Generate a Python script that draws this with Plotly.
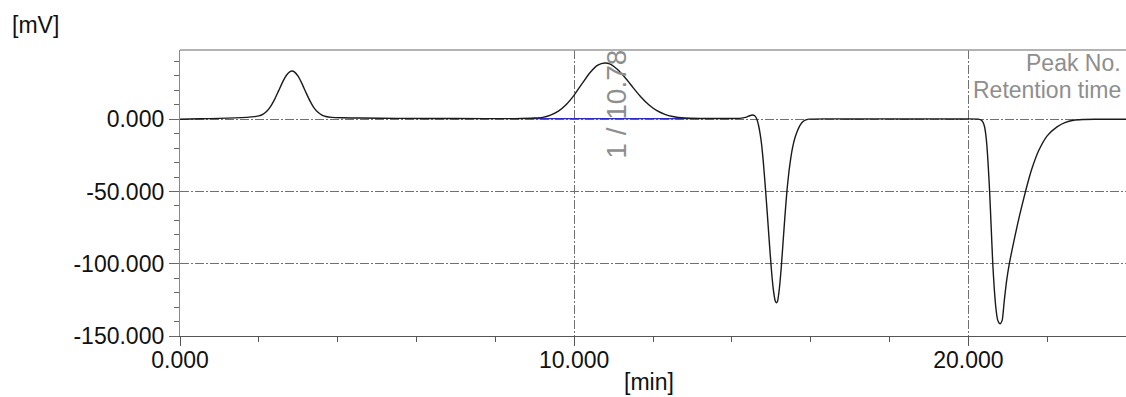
import plotly.graph_objects as go

# Detector signal (mV) against retention time (min)
time_min = [
    0.0, 0.5, 1.0, 1.4, 1.7, 1.9, 2.0, 2.1, 2.2, 2.3, 2.4, 2.5, 2.6, 2.7, 2.8, 2.85,
    2.9, 3.0, 3.1, 3.2, 3.3, 3.4, 3.5, 3.6, 3.7, 3.85, 4.1, 4.6, 5.5, 7.0, 8.5,
    9.0, 9.2, 9.4, 9.6, 9.8, 10.0, 10.2, 10.4, 10.6, 10.78, 10.9, 11.1, 11.3, 11.5,
    11.7, 11.9, 12.1, 12.3, 12.5, 12.8, 13.2, 13.8, 14.2, 14.35, 14.45, 14.52,
    14.58, 14.63, 14.68, 14.72, 14.76, 14.80, 14.85, 14.90, 14.95, 15.00, 15.05,
    15.10, 15.13, 15.16, 15.20, 15.25, 15.30, 15.35, 15.40, 15.45, 15.50, 15.55,
    15.60, 15.65, 15.70, 15.75, 15.80, 15.86, 15.95, 17.0, 18.5, 19.8, 20.25,
    20.32, 20.37, 20.41, 20.44, 20.47, 20.50, 20.54, 20.58, 20.62, 20.66, 20.70,
    20.74, 20.78, 20.81, 20.86, 20.91, 20.97, 21.04, 21.12, 21.19, 21.30, 21.45,
    21.61, 21.78, 22.00, 22.25, 22.45, 22.67, 22.90, 23.20, 24.0,
]
signal_mv = [
    0.0, 0.3, 0.6, 0.9, 1.3, 1.8, 2.3, 3.4, 5.5, 8.9, 13.7, 19.6, 25.5, 30.4, 33.1, 33.4,
    32.8, 29.6, 24.3, 18.2, 12.5, 7.9, 4.8, 2.9, 1.9, 1.3, 1.0, 0.8, 0.6, 0.5, 0.4,
    0.8, 1.3, 2.9, 5.6, 10.2, 16.7, 24.6, 32.2, 37.4, 38.9, 38.3, 34.4, 28.5, 21.7,
    15.2, 9.8, 5.9, 3.4, 1.9, 0.8, 0.5, 0.5, 0.6, 1.3, 2.4, 2.9,
    2.4, 0.3, -4.5, -10.5, -18.5, -30.0, -47.0, -65.5, -84.7, -102.8, -117.2,
    -125.6, -127.0, -126.0, -118.6, -104.0, -85.0, -66.0, -49.0, -36.0, -26.0, -18.5,
    -13.0, -9.0, -5.8, -3.4, -1.8, -0.6, 0.1, 0.2, 0.2, 0.2, 0.1,
    -0.5, -2.0, -5.0, -10.0, -18.0, -30.0, -50.0, -75.0, -100.0, -118.0, -131.0,
    -138.5, -141.0, -141.5, -139.0, -126.0, -112.0, -100.0, -89.0, -80.0, -66.5, -50.0,
    -34.5, -22.0, -11.5, -5.3, -2.3, -0.7, -0.2, 0.0, 0.0,
]

# Integration baseline under peak 1
baseline_time = [8.9, 13.0]
baseline_mv = [0.4, 0.4]

# Peak annotation
peak_no = [1]
retention_time = [10.78]
peak_label_mv = [-28.5]

x_tick_vals = [0, 10, 20]
x_tick_text = ["0.000", "10.000", "20.000"]
y_tick_vals = [-150, -100, -50, 0]
y_tick_text = ["-150.000", "-100.000", "-50.000", "0.000"]

FONT = "Liberation Sans, Arial, sans-serif"
GRID = "#707070"
LABEL_GREY = "#8e8e8e"

fig = go.Figure()
fig.add_trace(go.Scatter(
    x=baseline_time, y=baseline_mv, mode="lines",
    line=dict(color="#2a2ad0", width=1.4), hoverinfo="skip",
))
fig.add_trace(go.Scatter(
    x=time_min, y=signal_mv, mode="lines", line_shape="spline",
    line=dict(color="#1a1a1a", width=1.4, smoothing=0.5),
))

for n, rt, ymv in zip(peak_no, retention_time, peak_label_mv):
    fig.add_annotation(
        x=rt + 0.3, y=ymv, xref="x", yref="y",
        text=f"{n} / {rt:.2f}", textangle=-90, showarrow=False,
        xanchor="center", yanchor="bottom",
        font=dict(family=FONT, size=28, color=LABEL_GREY),
    )

fig.add_annotation(
    x=-0.1797, y=1.0857, xref="paper", yref="paper", text="[mV]",
    showarrow=False, xanchor="left", yanchor="middle",
    font=dict(family=FONT, size=23, color="#111"),
)
fig.add_annotation(
    x=0.4958, y=-0.162, xref="paper", yref="paper", text="[min]",
    showarrow=False, xanchor="center", yanchor="middle",
    font=dict(family=FONT, size=23, color="#111"),
)
fig.add_annotation(
    x=0.9968, y=0.955, xref="paper", yref="paper", text="Peak No.",
    showarrow=False, xanchor="right", yanchor="middle",
    font=dict(family=FONT, size=23, color=LABEL_GREY),
)
fig.add_annotation(
    x=0.9968, y=0.86, xref="paper", yref="paper", text="Retention time",
    showarrow=False, xanchor="right", yanchor="middle",
    font=dict(family=FONT, size=23, color=LABEL_GREY),
)

# top frame line
fig.add_shape(type="line", xref="paper", yref="paper", x0=0, x1=1, y0=1, y1=1,
              line=dict(color="#9a9a9a", width=1.5))

fig.update_xaxes(
    range=[0, 24.0], tickmode="array", tickvals=x_tick_vals, ticktext=x_tick_text,
    ticks="outside", ticklen=9, tickwidth=1, tickcolor="#555",
    ticklabelstandoff=-6,
    showline=True, linecolor="#555", linewidth=1.3,
    showgrid=True, gridcolor=GRID, gridwidth=1, griddash="9px,2px,2px,2px",
    zeroline=False,
    minor=dict(tickmode="linear", tick0=0, dtick=2, ticks="outside", ticklen=5,
               tickcolor="#555", showgrid=False),
    tickfont=dict(family=FONT, size=23, color="#111"),
)
fig.update_yaxes(
    range=[-150, 47.9], tickmode="array", tickvals=y_tick_vals, ticktext=y_tick_text,
    ticks="outside", ticklen=10, tickwidth=1, tickcolor="#666",
    showline=True, linecolor="#888", linewidth=1.3,
    showgrid=True, gridcolor=GRID, gridwidth=1, griddash="9px,2px,2px,2px",
    zeroline=False,
    minor=dict(tickmode="linear", tick0=0, dtick=10, ticks="outside", ticklen=5,
               tickcolor="#666", showgrid=False),
    tickfont=dict(family=FONT, size=23, color="#111"),
)

fig.update_layout(
    width=1126, height=397,
    margin=dict(l=180, r=0, t=50, b=61),
    paper_bgcolor="white", plot_bgcolor="white",
    showlegend=False,
)

fig.write_html("out.html")
